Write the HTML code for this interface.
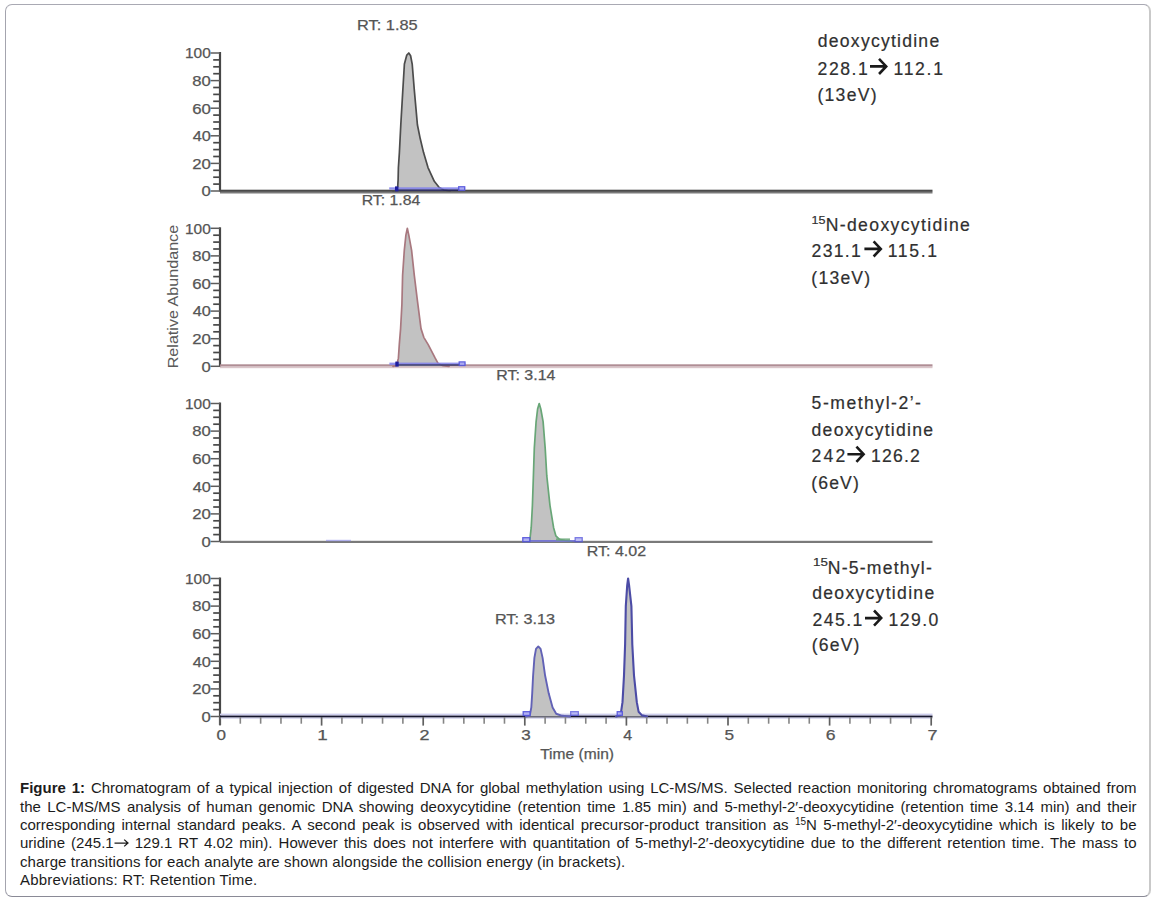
<!DOCTYPE html>
<html><head><meta charset="utf-8"><title>Figure 1</title>
<style>
html,body{margin:0;padding:0;background:#fff;}
body{width:1155px;height:901px;overflow:hidden;position:relative;font-family:"Liberation Sans",sans-serif;}
.box{position:absolute;left:5px;top:4px;width:1143px;height:891px;border-top:1px solid #a9a9b3;border-left:1px solid #a4a4ae;border-right:2px solid #c9c9c9;border-bottom:1px solid #8a8a96;border-radius:7px;}
svg{position:absolute;left:0;top:0;}
svg text{font-family:"Liberation Sans",sans-serif;}
.cap{position:absolute;left:20px;top:778px;width:1116.5px;font-size:15px;line-height:18.4px;color:#1c1c1c;}
.cap div{position:absolute;left:0;width:1116.5px;height:18px;line-height:18px;white-space:nowrap;overflow:visible;}
.cap div.j{text-align:justify;text-align-last:justify;white-space:normal;}
.cap b{font-weight:bold;}
.cap sup{font-size:10px;line-height:0;vertical-align:0;position:relative;top:-4.6px;}
.cap svg.ar{position:static;vertical-align:baseline;display:inline-block;}
.l5{letter-spacing:0.12px;}
.l6{letter-spacing:0.2px;}
</style></head><body>
<div class="box"></div>
<svg width="1155" height="775" viewBox="0 0 1155 775">
<defs><filter id="bl" filterUnits="userSpaceOnUse" x="0" y="0" width="1155" height="775"><feGaussianBlur stdDeviation="0.8"/></filter></defs>
<line x1="220" y1="52.00" x2="220" y2="191.50" stroke="#474747" stroke-width="2.2"/>
<line x1="210.5" y1="191.00" x2="220" y2="191.00" stroke="#5c5c5c" stroke-width="1.5"/>
<line x1="213.2" y1="184.10" x2="220" y2="184.10" stroke="#474747" stroke-width="1.7"/>
<line x1="213.2" y1="177.20" x2="220" y2="177.20" stroke="#474747" stroke-width="1.7"/>
<line x1="213.2" y1="170.30" x2="220" y2="170.30" stroke="#474747" stroke-width="1.7"/>
<line x1="210.5" y1="163.40" x2="220" y2="163.40" stroke="#5c5c5c" stroke-width="1.5"/>
<line x1="213.2" y1="156.50" x2="220" y2="156.50" stroke="#474747" stroke-width="1.7"/>
<line x1="213.2" y1="149.60" x2="220" y2="149.60" stroke="#474747" stroke-width="1.7"/>
<line x1="213.2" y1="142.70" x2="220" y2="142.70" stroke="#474747" stroke-width="1.7"/>
<line x1="210.5" y1="135.80" x2="220" y2="135.80" stroke="#5c5c5c" stroke-width="1.5"/>
<line x1="213.2" y1="128.90" x2="220" y2="128.90" stroke="#474747" stroke-width="1.7"/>
<line x1="213.2" y1="122.00" x2="220" y2="122.00" stroke="#474747" stroke-width="1.7"/>
<line x1="213.2" y1="115.10" x2="220" y2="115.10" stroke="#474747" stroke-width="1.7"/>
<line x1="210.5" y1="108.20" x2="220" y2="108.20" stroke="#5c5c5c" stroke-width="1.5"/>
<line x1="213.2" y1="101.30" x2="220" y2="101.30" stroke="#474747" stroke-width="1.7"/>
<line x1="213.2" y1="94.40" x2="220" y2="94.40" stroke="#474747" stroke-width="1.7"/>
<line x1="213.2" y1="87.50" x2="220" y2="87.50" stroke="#474747" stroke-width="1.7"/>
<line x1="210.5" y1="80.60" x2="220" y2="80.60" stroke="#5c5c5c" stroke-width="1.5"/>
<line x1="213.2" y1="73.70" x2="220" y2="73.70" stroke="#474747" stroke-width="1.7"/>
<line x1="213.2" y1="66.80" x2="220" y2="66.80" stroke="#474747" stroke-width="1.7"/>
<line x1="213.2" y1="59.90" x2="220" y2="59.90" stroke="#474747" stroke-width="1.7"/>
<line x1="210.5" y1="53.00" x2="220" y2="53.00" stroke="#5c5c5c" stroke-width="1.5"/>
<text x="201.53" y="196.30" font-size="14.50" fill="#555555" stroke="#555555" stroke-width="0.25" textLength="9.27" lengthAdjust="spacingAndGlyphs">0</text>
<text x="192.16" y="168.70" font-size="14.50" fill="#555555" stroke="#555555" stroke-width="0.25" textLength="18.67" lengthAdjust="spacingAndGlyphs">20</text>
<text x="192.67" y="141.10" font-size="14.50" fill="#555555" stroke="#555555" stroke-width="0.25" textLength="18.13" lengthAdjust="spacingAndGlyphs">40</text>
<text x="192.16" y="113.50" font-size="14.50" fill="#555555" stroke="#555555" stroke-width="0.25" textLength="18.67" lengthAdjust="spacingAndGlyphs">60</text>
<text x="192.34" y="85.90" font-size="14.50" fill="#555555" stroke="#555555" stroke-width="0.25" textLength="18.49" lengthAdjust="spacingAndGlyphs">80</text>
<text x="185.04" y="58.30" font-size="14.50" fill="#555555" stroke="#555555" stroke-width="0.25" textLength="25.75" lengthAdjust="spacingAndGlyphs">100</text>
<line x1="220" y1="227.30" x2="220" y2="366.80" stroke="#474747" stroke-width="2.2"/>
<line x1="210.5" y1="366.30" x2="220" y2="366.30" stroke="#5c5c5c" stroke-width="1.5"/>
<line x1="213.2" y1="359.40" x2="220" y2="359.40" stroke="#474747" stroke-width="1.7"/>
<line x1="213.2" y1="352.50" x2="220" y2="352.50" stroke="#474747" stroke-width="1.7"/>
<line x1="213.2" y1="345.60" x2="220" y2="345.60" stroke="#474747" stroke-width="1.7"/>
<line x1="210.5" y1="338.70" x2="220" y2="338.70" stroke="#5c5c5c" stroke-width="1.5"/>
<line x1="213.2" y1="331.80" x2="220" y2="331.80" stroke="#474747" stroke-width="1.7"/>
<line x1="213.2" y1="324.90" x2="220" y2="324.90" stroke="#474747" stroke-width="1.7"/>
<line x1="213.2" y1="318.00" x2="220" y2="318.00" stroke="#474747" stroke-width="1.7"/>
<line x1="210.5" y1="311.10" x2="220" y2="311.10" stroke="#5c5c5c" stroke-width="1.5"/>
<line x1="213.2" y1="304.20" x2="220" y2="304.20" stroke="#474747" stroke-width="1.7"/>
<line x1="213.2" y1="297.30" x2="220" y2="297.30" stroke="#474747" stroke-width="1.7"/>
<line x1="213.2" y1="290.40" x2="220" y2="290.40" stroke="#474747" stroke-width="1.7"/>
<line x1="210.5" y1="283.50" x2="220" y2="283.50" stroke="#5c5c5c" stroke-width="1.5"/>
<line x1="213.2" y1="276.60" x2="220" y2="276.60" stroke="#474747" stroke-width="1.7"/>
<line x1="213.2" y1="269.70" x2="220" y2="269.70" stroke="#474747" stroke-width="1.7"/>
<line x1="213.2" y1="262.80" x2="220" y2="262.80" stroke="#474747" stroke-width="1.7"/>
<line x1="210.5" y1="255.90" x2="220" y2="255.90" stroke="#5c5c5c" stroke-width="1.5"/>
<line x1="213.2" y1="249.00" x2="220" y2="249.00" stroke="#474747" stroke-width="1.7"/>
<line x1="213.2" y1="242.10" x2="220" y2="242.10" stroke="#474747" stroke-width="1.7"/>
<line x1="213.2" y1="235.20" x2="220" y2="235.20" stroke="#474747" stroke-width="1.7"/>
<line x1="210.5" y1="228.30" x2="220" y2="228.30" stroke="#5c5c5c" stroke-width="1.5"/>
<text x="201.53" y="371.60" font-size="14.50" fill="#555555" stroke="#555555" stroke-width="0.25" textLength="9.27" lengthAdjust="spacingAndGlyphs">0</text>
<text x="192.16" y="344.00" font-size="14.50" fill="#555555" stroke="#555555" stroke-width="0.25" textLength="18.67" lengthAdjust="spacingAndGlyphs">20</text>
<text x="192.67" y="316.40" font-size="14.50" fill="#555555" stroke="#555555" stroke-width="0.25" textLength="18.13" lengthAdjust="spacingAndGlyphs">40</text>
<text x="192.16" y="288.80" font-size="14.50" fill="#555555" stroke="#555555" stroke-width="0.25" textLength="18.67" lengthAdjust="spacingAndGlyphs">60</text>
<text x="192.34" y="261.20" font-size="14.50" fill="#555555" stroke="#555555" stroke-width="0.25" textLength="18.49" lengthAdjust="spacingAndGlyphs">80</text>
<text x="185.04" y="233.60" font-size="14.50" fill="#555555" stroke="#555555" stroke-width="0.25" textLength="25.75" lengthAdjust="spacingAndGlyphs">100</text>
<line x1="220" y1="402.50" x2="220" y2="542.00" stroke="#474747" stroke-width="2.2"/>
<line x1="210.5" y1="541.50" x2="220" y2="541.50" stroke="#5c5c5c" stroke-width="1.5"/>
<line x1="213.2" y1="534.60" x2="220" y2="534.60" stroke="#474747" stroke-width="1.7"/>
<line x1="213.2" y1="527.70" x2="220" y2="527.70" stroke="#474747" stroke-width="1.7"/>
<line x1="213.2" y1="520.80" x2="220" y2="520.80" stroke="#474747" stroke-width="1.7"/>
<line x1="210.5" y1="513.90" x2="220" y2="513.90" stroke="#5c5c5c" stroke-width="1.5"/>
<line x1="213.2" y1="507.00" x2="220" y2="507.00" stroke="#474747" stroke-width="1.7"/>
<line x1="213.2" y1="500.10" x2="220" y2="500.10" stroke="#474747" stroke-width="1.7"/>
<line x1="213.2" y1="493.20" x2="220" y2="493.20" stroke="#474747" stroke-width="1.7"/>
<line x1="210.5" y1="486.30" x2="220" y2="486.30" stroke="#5c5c5c" stroke-width="1.5"/>
<line x1="213.2" y1="479.40" x2="220" y2="479.40" stroke="#474747" stroke-width="1.7"/>
<line x1="213.2" y1="472.50" x2="220" y2="472.50" stroke="#474747" stroke-width="1.7"/>
<line x1="213.2" y1="465.60" x2="220" y2="465.60" stroke="#474747" stroke-width="1.7"/>
<line x1="210.5" y1="458.70" x2="220" y2="458.70" stroke="#5c5c5c" stroke-width="1.5"/>
<line x1="213.2" y1="451.80" x2="220" y2="451.80" stroke="#474747" stroke-width="1.7"/>
<line x1="213.2" y1="444.90" x2="220" y2="444.90" stroke="#474747" stroke-width="1.7"/>
<line x1="213.2" y1="438.00" x2="220" y2="438.00" stroke="#474747" stroke-width="1.7"/>
<line x1="210.5" y1="431.10" x2="220" y2="431.10" stroke="#5c5c5c" stroke-width="1.5"/>
<line x1="213.2" y1="424.20" x2="220" y2="424.20" stroke="#474747" stroke-width="1.7"/>
<line x1="213.2" y1="417.30" x2="220" y2="417.30" stroke="#474747" stroke-width="1.7"/>
<line x1="213.2" y1="410.40" x2="220" y2="410.40" stroke="#474747" stroke-width="1.7"/>
<line x1="210.5" y1="403.50" x2="220" y2="403.50" stroke="#5c5c5c" stroke-width="1.5"/>
<text x="201.53" y="546.80" font-size="14.50" fill="#555555" stroke="#555555" stroke-width="0.25" textLength="9.27" lengthAdjust="spacingAndGlyphs">0</text>
<text x="192.16" y="519.20" font-size="14.50" fill="#555555" stroke="#555555" stroke-width="0.25" textLength="18.67" lengthAdjust="spacingAndGlyphs">20</text>
<text x="192.67" y="491.60" font-size="14.50" fill="#555555" stroke="#555555" stroke-width="0.25" textLength="18.13" lengthAdjust="spacingAndGlyphs">40</text>
<text x="192.16" y="464.00" font-size="14.50" fill="#555555" stroke="#555555" stroke-width="0.25" textLength="18.67" lengthAdjust="spacingAndGlyphs">60</text>
<text x="192.34" y="436.40" font-size="14.50" fill="#555555" stroke="#555555" stroke-width="0.25" textLength="18.49" lengthAdjust="spacingAndGlyphs">80</text>
<text x="185.04" y="408.80" font-size="14.50" fill="#555555" stroke="#555555" stroke-width="0.25" textLength="25.75" lengthAdjust="spacingAndGlyphs">100</text>
<line x1="220" y1="577.50" x2="220" y2="725.00" stroke="#474747" stroke-width="2.2"/>
<line x1="210.5" y1="716.50" x2="220" y2="716.50" stroke="#5c5c5c" stroke-width="1.5"/>
<line x1="213.2" y1="709.60" x2="220" y2="709.60" stroke="#474747" stroke-width="1.7"/>
<line x1="213.2" y1="702.70" x2="220" y2="702.70" stroke="#474747" stroke-width="1.7"/>
<line x1="213.2" y1="695.80" x2="220" y2="695.80" stroke="#474747" stroke-width="1.7"/>
<line x1="210.5" y1="688.90" x2="220" y2="688.90" stroke="#5c5c5c" stroke-width="1.5"/>
<line x1="213.2" y1="682.00" x2="220" y2="682.00" stroke="#474747" stroke-width="1.7"/>
<line x1="213.2" y1="675.10" x2="220" y2="675.10" stroke="#474747" stroke-width="1.7"/>
<line x1="213.2" y1="668.20" x2="220" y2="668.20" stroke="#474747" stroke-width="1.7"/>
<line x1="210.5" y1="661.30" x2="220" y2="661.30" stroke="#5c5c5c" stroke-width="1.5"/>
<line x1="213.2" y1="654.40" x2="220" y2="654.40" stroke="#474747" stroke-width="1.7"/>
<line x1="213.2" y1="647.50" x2="220" y2="647.50" stroke="#474747" stroke-width="1.7"/>
<line x1="213.2" y1="640.60" x2="220" y2="640.60" stroke="#474747" stroke-width="1.7"/>
<line x1="210.5" y1="633.70" x2="220" y2="633.70" stroke="#5c5c5c" stroke-width="1.5"/>
<line x1="213.2" y1="626.80" x2="220" y2="626.80" stroke="#474747" stroke-width="1.7"/>
<line x1="213.2" y1="619.90" x2="220" y2="619.90" stroke="#474747" stroke-width="1.7"/>
<line x1="213.2" y1="613.00" x2="220" y2="613.00" stroke="#474747" stroke-width="1.7"/>
<line x1="210.5" y1="606.10" x2="220" y2="606.10" stroke="#5c5c5c" stroke-width="1.5"/>
<line x1="213.2" y1="599.20" x2="220" y2="599.20" stroke="#474747" stroke-width="1.7"/>
<line x1="213.2" y1="592.30" x2="220" y2="592.30" stroke="#474747" stroke-width="1.7"/>
<line x1="213.2" y1="585.40" x2="220" y2="585.40" stroke="#474747" stroke-width="1.7"/>
<line x1="210.5" y1="578.50" x2="220" y2="578.50" stroke="#5c5c5c" stroke-width="1.5"/>
<text x="201.53" y="721.80" font-size="14.50" fill="#555555" stroke="#555555" stroke-width="0.25" textLength="9.27" lengthAdjust="spacingAndGlyphs">0</text>
<text x="192.16" y="694.20" font-size="14.50" fill="#555555" stroke="#555555" stroke-width="0.25" textLength="18.67" lengthAdjust="spacingAndGlyphs">20</text>
<text x="192.67" y="666.60" font-size="14.50" fill="#555555" stroke="#555555" stroke-width="0.25" textLength="18.13" lengthAdjust="spacingAndGlyphs">40</text>
<text x="192.16" y="639.00" font-size="14.50" fill="#555555" stroke="#555555" stroke-width="0.25" textLength="18.67" lengthAdjust="spacingAndGlyphs">60</text>
<text x="192.34" y="611.40" font-size="14.50" fill="#555555" stroke="#555555" stroke-width="0.25" textLength="18.49" lengthAdjust="spacingAndGlyphs">80</text>
<text x="185.04" y="583.80" font-size="14.50" fill="#555555" stroke="#555555" stroke-width="0.25" textLength="25.75" lengthAdjust="spacingAndGlyphs">100</text>
<rect x="220" y="189.7" width="712.5" height="2.2" fill="#4a4a4a"/>
<rect x="220" y="191.9" width="712.5" height="1.6" fill="#7a7a7a"/>
<rect x="220" y="364.3" width="712.5" height="2.3" fill="#b08e95"/>
<rect x="220" y="366.6" width="712.5" height="1.6" fill="#dac6ca"/>
<rect x="220" y="540.8" width="712.5" height="2.2" fill="#7a7a7a"/>
<rect x="220" y="713.6" width="712.5" height="2.0" fill="#cdcdec"/>
<rect x="220" y="715.6" width="712.5" height="2.0" fill="#15152e"/>
<rect x="220" y="717.6" width="712.5" height="1.4" fill="#dcdcf0"/>
<path d="M393.00,191.00 L396.60,190.17 L397.70,186.86 L398.10,179.96 L398.40,167.54 L399.40,152.36 L400.80,124.76 L401.20,117.86 L402.90,88.88 L404.40,64.04 L406.80,55.07 L408.80,53.00 L410.60,55.76 L412.20,64.04 L414.20,88.88 L416.80,117.86 L417.40,124.76 L420.20,138.56 L423.50,152.36 L428.00,167.54 L434.30,181.34 L439.20,187.55 L444.00,190.03 L450.00,191.00 L450.00,191.00 L393.00,191.00 Z" fill="#c2c2c2" stroke="none"/><path d="M393.00,191.00 L396.60,190.17 L397.70,186.86 L398.10,179.96 L398.40,167.54 L399.40,152.36 L400.80,124.76 L401.20,117.86 L402.90,88.88 L404.40,64.04 L406.80,55.07 L408.80,53.00 L410.60,55.76 L412.20,64.04 L414.20,88.88 L416.80,117.86 L417.40,124.76 L420.20,138.56 L423.50,152.36 L428.00,167.54 L434.30,181.34 L439.20,187.55 L444.00,190.03 L450.00,191.00" fill="none" stroke="#4c4c4c" stroke-width="1.70" stroke-linejoin="round" stroke-linecap="round"/>
<path d="M393.00,366.30 L396.60,365.47 L398.40,358.16 L399.30,344.63 L400.60,328.63 L401.90,304.48 L402.60,275.36 L404.30,250.38 L405.90,235.20 L407.30,228.30 L408.80,235.20 L411.60,250.38 L414.30,275.36 L417.50,301.44 L421.00,328.63 L423.80,337.32 L428.20,344.63 L435.20,358.16 L438.20,363.54 L443.00,365.61 L449.00,366.30 L449.00,366.30 L393.00,366.30 Z" fill="#c2c2c2" stroke="none"/><path d="M393.00,366.30 L396.60,365.47 L398.40,358.16 L399.30,344.63 L400.60,328.63 L401.90,304.48 L402.60,275.36 L404.30,250.38 L405.90,235.20 L407.30,228.30 L408.80,235.20 L411.60,250.38 L414.30,275.36 L417.50,301.44 L421.00,328.63 L423.80,337.32 L428.20,344.63 L435.20,358.16 L438.20,363.54 L443.00,365.61 L449.00,366.30" fill="none" stroke="#a8787f" stroke-width="1.70" stroke-linejoin="round" stroke-linecap="round"/>
<path d="M526.00,541.50 L529.80,540.40 L531.20,527.70 L532.40,505.62 L533.30,478.85 L534.30,448.35 L536.10,421.58 L537.60,409.02 L539.20,403.50 L540.80,409.02 L543.10,421.58 L545.20,448.35 L546.80,475.95 L550.00,505.62 L553.60,527.70 L555.90,535.98 L559.50,539.43 L565.00,540.53 L571.00,541.50 L571.00,541.50 L526.00,541.50 Z" fill="#c2c2c2" stroke="none"/><path d="M526.00,541.50 L529.80,540.40 L531.20,527.70 L532.40,505.62 L533.30,478.85 L534.30,448.35 L536.10,421.58 L537.60,409.02 L539.20,403.50 L540.80,409.02 L543.10,421.58 L545.20,448.35 L546.80,475.95 L550.00,505.62 L553.60,527.70 L555.90,535.98 L559.50,539.43 L565.00,540.53 L571.00,541.50" fill="none" stroke="#68a677" stroke-width="1.70" stroke-linejoin="round" stroke-linecap="round"/>
<path d="M526.00,716.50 L529.80,715.40 L531.30,707.53 L532.20,693.32 L533.10,675.51 L534.40,657.85 L536.00,648.88 L538.30,646.40 L540.60,648.88 L542.60,657.85 L545.10,675.51 L548.70,693.32 L552.60,707.53 L556.20,713.74 L562.00,715.81 L570.00,716.50 L570.00,716.50 L526.00,716.50 Z" fill="#c2c2c2" stroke="none"/><path d="M526.00,716.50 L529.80,715.40 L531.30,707.53 L532.20,693.32 L533.10,675.51 L534.40,657.85 L536.00,648.88 L538.30,646.40 L540.60,648.88 L542.60,657.85 L545.10,675.51 L548.70,693.32 L552.60,707.53 L556.20,713.74 L562.00,715.81 L570.00,716.50" fill="none" stroke="#6262b6" stroke-width="1.90" stroke-linejoin="round" stroke-linecap="round"/>
<path d="M616.00,716.50 L619.80,715.40 L621.10,711.67 L622.50,702.15 L624.00,675.51 L625.10,644.46 L625.80,606.10 L627.20,585.40 L628.10,578.50 L629.10,585.40 L631.40,606.10 L632.30,644.46 L634.00,675.51 L636.80,702.15 L638.60,711.67 L642.00,715.40 L647.00,716.50 L647.00,716.50 L616.00,716.50 Z" fill="#c2c2c2" stroke="none"/><path d="M616.00,716.50 L619.80,715.40 L621.10,711.67 L622.50,702.15 L624.00,675.51 L625.10,644.46 L625.80,606.10 L627.20,585.40 L628.10,578.50 L629.10,585.40 L631.40,606.10 L632.30,644.46 L634.00,675.51 L636.80,702.15 L638.60,711.67 L642.00,715.40 L647.00,716.50" fill="none" stroke="#4c4ca6" stroke-width="2.10" stroke-linejoin="round" stroke-linecap="round"/>
<line x1="220.00" y1="717" x2="220.00" y2="725.6" stroke="#606060" stroke-width="1.7"/>
<line x1="240.32" y1="717" x2="240.32" y2="723.7" stroke="#858585" stroke-width="1.6"/>
<line x1="260.64" y1="717" x2="260.64" y2="723.7" stroke="#858585" stroke-width="1.6"/>
<line x1="280.96" y1="717" x2="280.96" y2="723.7" stroke="#858585" stroke-width="1.6"/>
<line x1="301.28" y1="717" x2="301.28" y2="723.7" stroke="#858585" stroke-width="1.6"/>
<line x1="321.60" y1="717" x2="321.60" y2="725.6" stroke="#606060" stroke-width="1.7"/>
<line x1="341.92" y1="717" x2="341.92" y2="723.7" stroke="#858585" stroke-width="1.6"/>
<line x1="362.24" y1="717" x2="362.24" y2="723.7" stroke="#858585" stroke-width="1.6"/>
<line x1="382.56" y1="717" x2="382.56" y2="723.7" stroke="#858585" stroke-width="1.6"/>
<line x1="402.88" y1="717" x2="402.88" y2="723.7" stroke="#858585" stroke-width="1.6"/>
<line x1="423.20" y1="717" x2="423.20" y2="725.6" stroke="#606060" stroke-width="1.7"/>
<line x1="443.52" y1="717" x2="443.52" y2="723.7" stroke="#858585" stroke-width="1.6"/>
<line x1="463.84" y1="717" x2="463.84" y2="723.7" stroke="#858585" stroke-width="1.6"/>
<line x1="484.16" y1="717" x2="484.16" y2="723.7" stroke="#858585" stroke-width="1.6"/>
<line x1="504.48" y1="717" x2="504.48" y2="723.7" stroke="#858585" stroke-width="1.6"/>
<line x1="524.80" y1="717" x2="524.80" y2="725.6" stroke="#606060" stroke-width="1.7"/>
<line x1="545.12" y1="717" x2="545.12" y2="723.7" stroke="#858585" stroke-width="1.6"/>
<line x1="565.44" y1="717" x2="565.44" y2="723.7" stroke="#858585" stroke-width="1.6"/>
<line x1="585.76" y1="717" x2="585.76" y2="723.7" stroke="#858585" stroke-width="1.6"/>
<line x1="606.08" y1="717" x2="606.08" y2="723.7" stroke="#858585" stroke-width="1.6"/>
<line x1="626.40" y1="717" x2="626.40" y2="725.6" stroke="#606060" stroke-width="1.7"/>
<line x1="646.72" y1="717" x2="646.72" y2="723.7" stroke="#858585" stroke-width="1.6"/>
<line x1="667.04" y1="717" x2="667.04" y2="723.7" stroke="#858585" stroke-width="1.6"/>
<line x1="687.36" y1="717" x2="687.36" y2="723.7" stroke="#858585" stroke-width="1.6"/>
<line x1="707.68" y1="717" x2="707.68" y2="723.7" stroke="#858585" stroke-width="1.6"/>
<line x1="728.00" y1="717" x2="728.00" y2="725.6" stroke="#606060" stroke-width="1.7"/>
<line x1="748.32" y1="717" x2="748.32" y2="723.7" stroke="#858585" stroke-width="1.6"/>
<line x1="768.64" y1="717" x2="768.64" y2="723.7" stroke="#858585" stroke-width="1.6"/>
<line x1="788.96" y1="717" x2="788.96" y2="723.7" stroke="#858585" stroke-width="1.6"/>
<line x1="809.28" y1="717" x2="809.28" y2="723.7" stroke="#858585" stroke-width="1.6"/>
<line x1="829.60" y1="717" x2="829.60" y2="725.6" stroke="#606060" stroke-width="1.7"/>
<line x1="849.92" y1="717" x2="849.92" y2="723.7" stroke="#858585" stroke-width="1.6"/>
<line x1="870.24" y1="717" x2="870.24" y2="723.7" stroke="#858585" stroke-width="1.6"/>
<line x1="890.56" y1="717" x2="890.56" y2="723.7" stroke="#858585" stroke-width="1.6"/>
<line x1="910.88" y1="717" x2="910.88" y2="723.7" stroke="#858585" stroke-width="1.6"/>
<line x1="931.20" y1="717" x2="931.20" y2="725.6" stroke="#606060" stroke-width="1.7"/>
<text x="216.42" y="739.90" font-size="14.50" fill="#555555" stroke="#555555" stroke-width="0.25" textLength="9.50" lengthAdjust="spacingAndGlyphs">0</text>
<text x="317.29" y="739.90" font-size="14.50" fill="#555555" stroke="#555555" stroke-width="0.25" textLength="10.48" lengthAdjust="spacingAndGlyphs">1</text>
<text x="419.40" y="739.90" font-size="14.50" fill="#555555" stroke="#555555" stroke-width="0.25" textLength="10.02" lengthAdjust="spacingAndGlyphs">2</text>
<text x="521.30" y="739.90" font-size="14.50" fill="#555555" stroke="#555555" stroke-width="0.25" textLength="9.50" lengthAdjust="spacingAndGlyphs">3</text>
<text x="623.18" y="739.90" font-size="14.50" fill="#555555" stroke="#555555" stroke-width="0.25" textLength="8.94" lengthAdjust="spacingAndGlyphs">4</text>
<text x="724.41" y="739.90" font-size="14.50" fill="#555555" stroke="#555555" stroke-width="0.25" textLength="9.60" lengthAdjust="spacingAndGlyphs">5</text>
<text x="825.82" y="739.90" font-size="14.50" fill="#555555" stroke="#555555" stroke-width="0.25" textLength="9.81" lengthAdjust="spacingAndGlyphs">6</text>
<text x="927.40" y="739.90" font-size="14.50" fill="#555555" stroke="#555555" stroke-width="0.25" textLength="10.02" lengthAdjust="spacingAndGlyphs">7</text>
<text x="540.19" y="758.80" font-size="14.00" fill="#555555" stroke="#555555" stroke-width="0.25" textLength="73.83" lengthAdjust="spacingAndGlyphs">Time (min)</text>
<text transform="translate(177.6,368.29) rotate(-90)" x="0" y="0" font-size="15.50" fill="#5a5a5a" textLength="143.45" lengthAdjust="spacingAndGlyphs">Relative Abundance</text>
<text x="357.09" y="30.00" font-size="14.00" fill="#555555" stroke="#555555" stroke-width="0.25" textLength="60.58" lengthAdjust="spacingAndGlyphs">RT: 1.85</text>
<text x="361.74" y="205.00" font-size="14.00" fill="#555555" stroke="#555555" stroke-width="0.25" textLength="58.47" lengthAdjust="spacingAndGlyphs">RT: 1.84</text>
<text x="496.32" y="380.40" font-size="14.00" fill="#555555" stroke="#555555" stroke-width="0.25" textLength="59.09" lengthAdjust="spacingAndGlyphs">RT: 3.14</text>
<text x="586.72" y="556.00" font-size="14.00" fill="#555555" stroke="#555555" stroke-width="0.25" textLength="59.40" lengthAdjust="spacingAndGlyphs">RT: 4.02</text>
<text x="494.90" y="623.80" font-size="14.00" fill="#555555" stroke="#555555" stroke-width="0.25" textLength="60.06" lengthAdjust="spacingAndGlyphs">RT: 3.13</text>
<text x="817.80" y="47.40" font-size="17.60" fill="#303030" stroke="#303030" stroke-width="0.20" class="lbl" textLength="121.39" lengthAdjust="spacing">deoxycytidine</text>
<text x="817.62" y="75.00" font-size="17.60" fill="#303030" stroke="#303030" stroke-width="0.20" class="lbl" textLength="50.22" lengthAdjust="spacing">228.1</text>
<path class="lbl" d="M870.00,66.40 L886.20,66.40 M879.02,58.80 L886.20,66.40 L879.02,74.00" fill="none" stroke="#1a1a1a" stroke-width="2.60" stroke-linecap="butt" stroke-linejoin="miter"/>
<text x="893.48" y="75.00" font-size="17.60" fill="#303030" stroke="#303030" stroke-width="0.20" class="lbl" textLength="49.47" lengthAdjust="spacing">112.1</text>
<text x="817.44" y="101.40" font-size="17.60" fill="#303030" stroke="#303030" stroke-width="0.20" class="lbl" textLength="59.14" lengthAdjust="spacing">(13eV)</text>
<text x="811.46" y="224.10" font-size="11.50" fill="#303030" stroke="#303030" stroke-width="0.20" class="lbl" textLength="13.97" lengthAdjust="spacingAndGlyphs">15</text>
<text x="825.69" y="230.80" font-size="17.60" fill="#303030" stroke="#303030" stroke-width="0.20" class="lbl" textLength="144.20" lengthAdjust="spacing">N-deoxycytidine</text>
<text x="811.52" y="256.50" font-size="17.60" fill="#303030" stroke="#303030" stroke-width="0.20" class="lbl" textLength="49.32" lengthAdjust="spacing">231.1</text>
<path class="lbl" d="M864.40,248.90 L880.80,248.90 M873.62,241.30 L880.80,248.90 L873.62,256.50" fill="none" stroke="#1a1a1a" stroke-width="2.60" stroke-linecap="butt" stroke-linejoin="miter"/>
<text x="887.68" y="256.50" font-size="17.60" fill="#303030" stroke="#303030" stroke-width="0.20" class="lbl" textLength="49.27" lengthAdjust="spacing">115.1</text>
<text x="811.34" y="284.30" font-size="17.60" fill="#303030" stroke="#303030" stroke-width="0.20" class="lbl" textLength="58.84" lengthAdjust="spacing">(13eV)</text>
<text x="811.60" y="409.40" font-size="17.60" fill="#303030" stroke="#303030" stroke-width="0.20" class="lbl" textLength="109.36" lengthAdjust="spacing">5-methyl-2&#8217;-</text>
<text x="811.60" y="435.50" font-size="17.60" fill="#303030" stroke="#303030" stroke-width="0.20" class="lbl" textLength="121.39" lengthAdjust="spacing">deoxycytidine</text>
<text x="811.42" y="462.00" font-size="17.60" fill="#303030" stroke="#303030" stroke-width="0.20" class="lbl" textLength="33.92" lengthAdjust="spacing">242</text>
<path class="lbl" d="M847.40,454.20 L863.60,454.20 M856.42,446.60 L863.60,454.20 L856.42,461.80" fill="none" stroke="#1a1a1a" stroke-width="2.60" stroke-linecap="butt" stroke-linejoin="miter"/>
<text x="870.98" y="462.00" font-size="17.60" fill="#303030" stroke="#303030" stroke-width="0.20" class="lbl" textLength="48.94" lengthAdjust="spacing">126.2</text>
<text x="811.24" y="488.60" font-size="17.60" fill="#303030" stroke="#303030" stroke-width="0.20" class="lbl" textLength="47.61" lengthAdjust="spacing">(6eV)</text>
<text x="813.10" y="565.70" font-size="11.50" fill="#303030" stroke="#303030" stroke-width="0.20" class="lbl" textLength="14.87" lengthAdjust="spacingAndGlyphs">15</text>
<text x="827.79" y="573.60" font-size="17.60" fill="#303030" stroke="#303030" stroke-width="0.20" class="lbl" textLength="104.06" lengthAdjust="spacing">N-5-methyl-</text>
<text x="812.20" y="599.10" font-size="17.60" fill="#303030" stroke="#303030" stroke-width="0.20" class="lbl" textLength="121.99" lengthAdjust="spacing">deoxycytidine</text>
<text x="812.62" y="625.50" font-size="17.60" fill="#303030" stroke="#303030" stroke-width="0.20" class="lbl" textLength="49.62" lengthAdjust="spacing">245.1</text>
<path class="lbl" d="M865.00,618.10 L881.20,618.10 M874.02,610.50 L881.20,618.10 L874.02,625.70" fill="none" stroke="#1a1a1a" stroke-width="2.60" stroke-linecap="butt" stroke-linejoin="miter"/>
<text x="888.48" y="625.50" font-size="17.60" fill="#303030" stroke="#303030" stroke-width="0.20" class="lbl" textLength="49.88" lengthAdjust="spacing">129.0</text>
<text x="811.84" y="651.00" font-size="17.60" fill="#303030" stroke="#303030" stroke-width="0.20" class="lbl" textLength="47.61" lengthAdjust="spacing">(6eV)</text>
<g filter="url(#bl)">

</g>
<rect x="389.2" y="187.3" width="76" height="2.3" fill="#8080ec" opacity="0.85"/>
<rect x="396" y="189.4" width="64" height="1.6" fill="#24245a" opacity="0.9"/>
<rect x="395.0" y="186.4" width="3.4" height="5" fill="#1e1ea0"/>
<rect x="458.7" y="186.7" width="6.0" height="3.6" fill="#aeaef2" stroke="#5656dc" stroke-width="1.3" opacity="0.90"/>
<rect x="389.4" y="362.6" width="76" height="2.3" fill="#8080ec" opacity="0.85"/>
<rect x="396" y="364.2" width="64" height="1.6" fill="#3a3a6a" opacity="0.9"/>
<rect x="395.3" y="361.6" width="3.4" height="5" fill="#1e1ea0"/>
<rect x="459.2" y="361.9" width="5.8" height="3.6" fill="#aeaef2" stroke="#5656dc" stroke-width="1.3" opacity="0.90"/>
<rect x="529" y="540.0" width="46" height="1.8" fill="#6a6ad6" opacity="0.85"/>
<rect x="522.8" y="537.7" width="7.0" height="4.0" fill="#aeaef2" stroke="#5656dc" stroke-width="1.3" opacity="0.95"/>
<rect x="575.2" y="537.7" width="7.0" height="4.0" fill="#aeaef2" stroke="#5656dc" stroke-width="1.3" opacity="0.80"/>
<rect x="556" y="538.4" width="14" height="2.2" fill="#68a677" opacity="0.85"/>
<rect x="326" y="539.8" width="25" height="1.4" fill="#9a9af0" opacity="0.7"/>
<rect x="523.2" y="711.7" width="6.8" height="3.8" fill="#aeaef2" stroke="#5656dc" stroke-width="1.3" opacity="0.95"/>
<rect x="570.7" y="711.7" width="7.6" height="3.6" fill="#aeaef2" stroke="#5656dc" stroke-width="1.3" opacity="0.80"/>
<rect x="617.2" y="711.7" width="5.1" height="3.6" fill="#aeaef2" stroke="#5656dc" stroke-width="1.3" opacity="0.95"/>
</svg>
<div class="cap"><div class="j" style="top:1.0px"><b>Figure 1:</b> Chromatogram of a typical injection of digested DNA for global methylation using LC-MS/MS. Selected reaction monitoring chromatograms obtained from</div>
<div class="j" style="top:20.0px">the LC-MS/MS analysis of human genomic DNA showing deoxycytidine (retention time 1.85 min) and 5-methyl-2&#8242;-deoxycytidine (retention time 3.14 min) and their</div>
<div class="j" style="top:38.0px">corresponding internal standard peaks. A second peak is observed with identical precursor-product transition as <sup>15</sup>N 5-methyl-2&#8242;-deoxycytidine which is likely to be</div>
<div class="j" style="top:56.0px">uridine (245.1<svg class="ar" width="15" height="10" viewBox="0 0 15 10"><path d="M0.5,5 H14 M10.2,1.6 L14,5 L10.2,8.4" fill="none" stroke="#1c1c1c" stroke-width="1.25"/></svg> 129.1 RT 4.02 min). However this does not interfere with quantitation of 5-methyl-2&#8242;-deoxycytidine due to the different retention time. The mass to</div>
<div class="l5" style="top:75.0px">charge transitions for each analyte are shown alongside the collision energy (in brackets).</div>
<div class="l6" style="top:93.0px">Abbreviations: RT: Retention Time.</div></div>
</body></html>
